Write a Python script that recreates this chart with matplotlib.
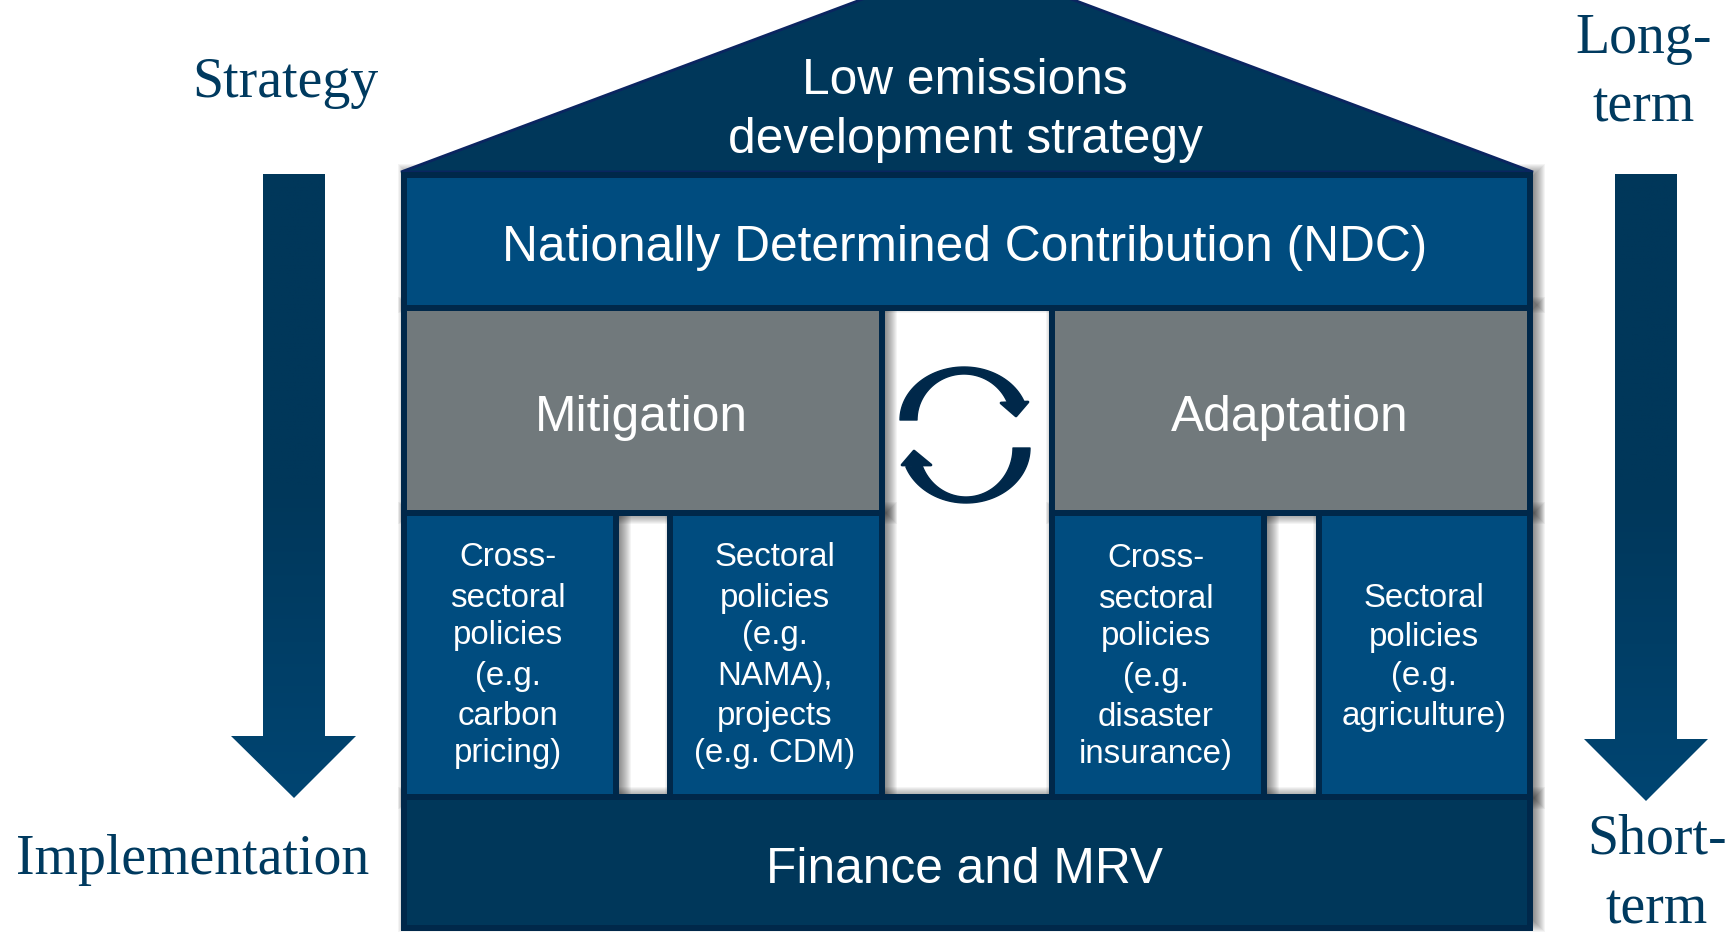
import matplotlib

matplotlib.use("Agg")
import matplotlib.pyplot as plt
import numpy as np
from matplotlib.colors import LinearSegmentedColormap
from matplotlib.patches import Polygon, Rectangle

# labels
roof_lines = ["Low emissions", "development strategy"]
ndc_label = "Nationally Determined Contribution (NDC)"
pillar_labels = ["Mitigation", "Adaptation"]
base_label = "Finance and MRV"
col_a = ["Cross-", "sectoral", "policies", "(e.g.", "carbon", "pricing)"]
col_b = ["Sectoral", "policies", "(e.g.", "NAMA),", "projects", "(e.g. CDM)"]
col_c = ["Cross-", "sectoral", "policies", "(e.g.", "disaster", "insurance)"]
col_d = ["Sectoral", "policies", "(e.g.", "agriculture)"]

DARK = "#00375a"
BLUE = "#004c7f"
GREY = "#71797c"
EDGE = "#00284a"
SERIF_COL = "#003a5f"

fig = plt.figure(figsize=(17.30, 9.38), dpi=100)
ax = fig.add_axes([0, 0, 1, 1])
ax.set_xlim(0, 1730)
ax.set_ylim(938, 0)
ax.axis("off")


def soft_shadow(x0, y0, x1, y1, dx=5, blur=16):
    for k in range(blur):
        grow = blur / 2 - k
        ax.add_patch(Rectangle((x0 + dx - grow, y0 - grow), x1 - x0 + 2 * grow, y1 - y0 + 2 * grow,
                               fc="black", ec="none", alpha=0.045, zorder=1))


def box(x0, y0, x1, y1, color):
    # dark frame first, then the inner fill
    ax.add_patch(Rectangle((x0 - 6, y0 - 6), x1 - x0 + 12, y1 - y0 + 12, fc=EDGE, ec="none", zorder=3))
    ax.add_patch(Rectangle((x0, y0), x1 - x0, y1 - y0, fc=color, ec="none", zorder=4))


def sans(x, y, s, size):
    ax.text(x, y, s, color="white", fontsize=size, family="Liberation Sans", ha="center", va="baseline", zorder=6)


def serif(x, y, s):
    ax.text(x, y, s, color=SERIF_COL, fontsize=40.2, family="Liberation Serif", ha="center", va="baseline", zorder=6)


def down_arrow(x0, x1, y0, y_head, hx0, hx1, tip_y):
    mid = (x0 + x1) / 2
    pts = [(x0, y0), (x1, y0), (x1, y_head), (hx1, y_head), (mid, tip_y), (hx0, y_head), (x0, y_head)]
    cmap = LinearSegmentedColormap.from_list("arrow", ["#00375a", "#00375a", "#004572"])
    im = ax.imshow(np.linspace(0, 1, 256).reshape(-1, 1), cmap=cmap, aspect="auto",
                   extent=(hx0, hx1, tip_y, y0), zorder=2)
    clip = Polygon(pts, closed=True, transform=ax.transData, fc="none", ec="none")
    ax.add_patch(clip)
    im.set_clip_path(clip)


def crescent(cx, cy, r_out, r_in, t0, t1, head):
    t = np.radians(np.linspace(t0, t1, 60))
    outer = np.c_[cx + r_out[0] * np.cos(t), cy - r_out[1] * np.sin(t)]
    inner = np.c_[cx + r_in[0] * np.cos(t), cy - r_in[1] * np.sin(t)]
    ax.add_patch(Polygon(np.r_[outer, inner[::-1]], closed=True, fc=EDGE, ec=EDGE, lw=1, joinstyle="round", zorder=5))
    ax.add_patch(Polygon(head, closed=True, fc=EDGE, ec=EDGE, lw=2, joinstyle="round", zorder=5))


# shadows sit under the house
soft_shadow(401, 172, 1532, 305)
soft_shadow(401, 305, 884, 516)
soft_shadow(1049, 305, 1532, 516)
soft_shadow(401, 510, 618, 801)
soft_shadow(668, 510, 884, 801)
soft_shadow(1049, 510, 1266, 801)
soft_shadow(1316, 510, 1532, 801)
soft_shadow(401, 795, 1532, 924)

# roof
ax.add_patch(Polygon([(401, 172), (967, -40), (1533, 172)], closed=True, fc=DARK, ec="#0a2560", lw=2, zorder=3))
ax.add_patch(Rectangle((401, 172), 1132, 6, fc=EDGE, ec="none", zorder=4))
sans(965, 94, roof_lines[0], 35.7)
sans(965, 153, roof_lines[1], 35.7)

# beams and pillars
box(407, 178, 1527, 305, BLUE)
sans(965, 261, ndc_label, 35.7)
box(407, 311, 879, 510, GREY)
box(1055, 311, 1527, 510, GREY)
sans(641, 431, pillar_labels[0], 35.7)
sans(1290, 431, pillar_labels[1], 35.7)

box(407, 516, 613, 794, BLUE)
box(673, 516, 879, 794, BLUE)
box(1055, 516, 1261, 794, BLUE)
box(1322, 516, 1527, 794, BLUE)

box(407, 800, 1527, 925, DARK)
sans(965, 883, base_label, 35.7)

# column text, line by line since the spacing is uneven
six_lines = [566, 607, 644, 685, 725, 762]
for line, y in zip(col_a, six_lines):
    sans(508, y, line, 23.8)
for line, y in zip(col_b, six_lines):
    sans(775, y, line, 23.8)
for line, y in zip(col_c, six_lines):
    sans(1156, y + 1, line, 23.8)
for line, y in zip(col_d, [607, 646, 685, 725]):
    sans(1424, y, line, 23.8)

# cycle icon
crescent(964, 420, (64, 53), (47, 46), 180, 18, [(1001, 403), (1028, 402), (1016, 416)])
crescent(966, 448, (64, 55), (47, 49), 0, -160, [(902, 465), (914, 451), (931, 465)])

# side arrows and labels
down_arrow(263, 325, 174, 736, 231, 356, 798)
down_arrow(1615, 1677, 174, 739, 1584, 1708, 801)
serif(285, 97, "Strategy")
serif(193, 874, "Implementation")
serif(1644, 53, "Long-")
serif(1644, 121, "term")
serif(1657, 854, "Short-")
serif(1657, 923, "term")

fig.savefig("out.png", dpi=100, facecolor="white")
